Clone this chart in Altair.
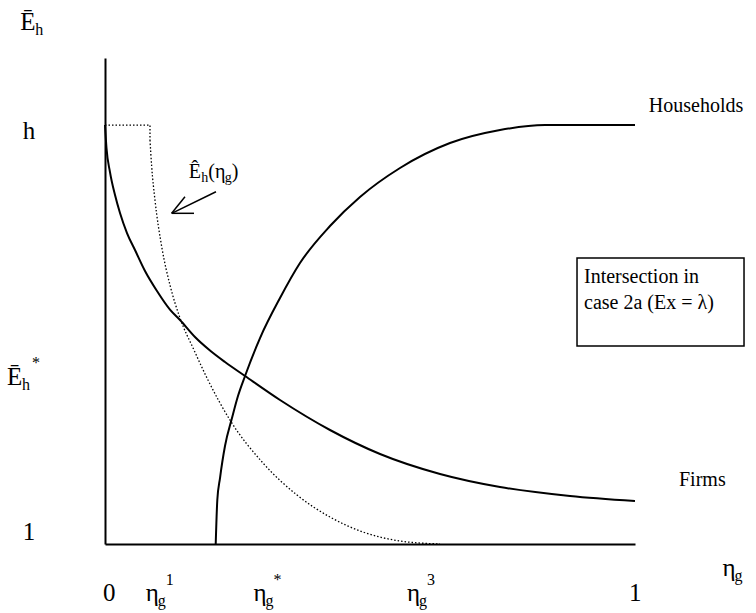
import altair as alt
import pandas as pd

# ---- curve values: η_g on the horizontal axis, Ē_h on the vertical (Ē_h = 1 at the axis, h = 2) ----
FIRMS_ETA = [0.0, 0.0028, 0.0094, 0.0189, 0.0283, 0.0415, 0.0566, 0.0755, 0.0981,
             0.1226, 0.1415, 0.1698, 0.1981, 0.2264, 0.2642, 0.3302, 0.4245, 0.5189,
             0.6321, 0.7453, 0.8774, 1.0]
FIRMS_E = [2.0, 1.9451, 1.8878, 1.8329, 1.7900, 1.7422, 1.7017, 1.6516, 1.6038,
           1.5594, 1.5346, 1.4940, 1.4618, 1.4344, 1.4010, 1.3437, 1.2721, 1.2148,
           1.1671, 1.1360, 1.1146, 1.1026]

HOUSE_ETA = [0.2089, 0.2119, 0.2170, 0.2264, 0.2396, 0.2509, 0.2642, 0.2925, 0.3302,
             0.3679, 0.4245, 0.4811, 0.5566, 0.6509, 0.7453, 0.8302, 1.0]
HOUSE_E = [1.0, 1.1050, 1.1575, 1.2339, 1.3007, 1.3532, 1.4010, 1.4916, 1.5871,
           1.6706, 1.7589, 1.8282, 1.8974, 1.9570, 1.9881, 2.0, 2.0]

# Ê_h(η_g): flat at h, a drop, then the decaying branch down to 1
EHAT_STEP_ETA = [0.0, 0.0849, 0.0849]
EHAT_STEP_E = [2.0, 2.0, 1.9642]
EHAT_ETA = [0.0849, 0.0881, 0.0943, 0.1070, 0.1226, 0.1415, 0.1679, 0.1943, 0.2358,
            0.2981, 0.3623, 0.4245, 0.4868, 0.5566, 0.6321]
EHAT_E = [1.9642, 1.9005, 1.8210, 1.7096, 1.6181, 1.5394, 1.4630, 1.3914, 1.2959,
          1.1933, 1.1169, 1.0644, 1.0286, 1.0072, 1.0]

E_LOW, E_HIGH = 1.0, 2.0
E_STAR = 1.40
E_TOP = 2.16

# arrow pointing at the Ê_h curve: (start, end) pairs
ARROW_X = [0.2094, 0.1258, 0.1258]
ARROW_Y = [1.8408, 1.7893, 1.7893]
ARROW_X2 = [0.1258, 0.1509, 0.1679]
ARROW_Y2 = [1.7893, 1.8289, 1.7893]

# note box extent
BOX_X, BOX_X2 = 0.8906, 1.2057
BOX_Y, BOX_Y2 = 1.4726, 1.6826

FONT = "Liberation Serif"
PX_X, PX_Y = 530.0, 419.0   # pixels per data unit on each axis


def piece(ax, ay, dx, dy, text):
    """A text fragment anchored at (ax, ay) in data units, nudged by dx/dy pixels."""
    return {"x": ax + dx / PX_X, "y": ay - dy / PX_Y, "text": text}


# axis symbols (large) and their sub/superscripts (small)
axis_main = [
    piece(-0.16, E_TOP, 0, -28, "Ē"),
    piece(-0.155, E_HIGH, 0, 14, "h"),
    piece(-0.185, E_STAR, 0, 9, "Ē"),
    piece(-0.155, E_LOW, 0, -4, "1"),
    piece(0.0, E_LOW, -2, 57, "0"),
    piece(0.077, E_LOW, 0, 57, "η"),
    piece(0.28, E_LOW, 0, 57, "η"),
    piece(0.57, E_LOW, 0, 57, "η"),
    piece(1.0, E_LOW, -6, 57, "1"),
    piece(1.165, E_LOW, 0, 32, "η"),
]
axis_small = [
    piece(-0.16, E_TOP, 15, -23, "h"),
    piece(-0.185, E_STAR, 15, 14, "h"), piece(-0.185, E_STAR, 25, -8, "*"),
    piece(0.077, E_LOW, 12, 62, "g"), piece(0.077, E_LOW, 20, 41, "1"),
    piece(0.28, E_LOW, 12, 62, "g"), piece(0.28, E_LOW, 20, 41, "*"),
    piece(0.57, E_LOW, 12, 62, "g"), piece(0.57, E_LOW, 20, 41, "3"),
    piece(1.165, E_LOW, 12, 37, "g"),
]
# annotations and their subscripts
note_main = [
    piece(1.026, E_HIGH, 0, -13, "Households"),
    piece(1.083, FIRMS_E[-1], 0, -15, "Firms"),
    piece(0.158, 1.86, 0, -6, "Ê"),
    piece(0.158, 1.86, 19.5, -6, "(η"),
    piece(0.158, 1.86, 43, -6, ")"),
    piece(BOX_X, BOX_Y2, 7, 25, "Intersection in"),
    piece(BOX_X, BOX_Y2, 7, 51, "case 2a (Ex = λ)"),
]
note_small = [
    piece(0.158, 1.86, 12.5, -2, "h"),
    piece(0.158, 1.86, 36, -2, "g"),
]

x_scale = alt.Scale(domain=[0, 1], nice=False, zero=False)
y_scale = alt.Scale(domain=[E_LOW, E_TOP], nice=False, zero=False)


def xy():
    return dict(
        x=alt.X("x:Q", scale=x_scale, title=None),
        y=alt.Y("y:Q", scale=y_scale, title=None),
    )


def text_layer(rows, size):
    return alt.Chart(pd.DataFrame(rows)).mark_text(
        align="left", baseline="alphabetic", font=FONT, fontSize=size, color="black"
    ).encode(text="text:N", **xy())


firms = alt.Chart(pd.DataFrame({"x": FIRMS_ETA, "y": FIRMS_E})).mark_line(
    color="black", strokeWidth=2, interpolate="monotone").encode(**xy())

households = alt.Chart(pd.DataFrame({"x": HOUSE_ETA, "y": HOUSE_E})).mark_line(
    color="black", strokeWidth=2, interpolate="monotone").encode(**xy())

ehat_step = alt.Chart(pd.DataFrame({"x": EHAT_STEP_ETA, "y": EHAT_STEP_E,
                                    "i": range(len(EHAT_STEP_ETA))})).mark_line(
    color="black", strokeWidth=1.3, strokeDash=[1.5, 2]).encode(
    order="i:Q", **xy())

ehat = alt.Chart(pd.DataFrame({"x": EHAT_ETA, "y": EHAT_E})).mark_line(
    color="black", strokeWidth=1.3, strokeDash=[1.5, 2], interpolate="monotone").encode(**xy())

arrow = alt.Chart(pd.DataFrame({"x": ARROW_X, "y": ARROW_Y,
                                "x2": ARROW_X2, "y2": ARROW_Y2})).mark_rule(
    color="black", strokeWidth=1.5).encode(
    x2="x2:Q", y2="y2:Q", **xy())

box = alt.Chart(pd.DataFrame({"x": [BOX_X], "x2": [BOX_X2],
                              "y": [BOX_Y], "y2": [BOX_Y2]})).mark_rect(
    fill="white", fillOpacity=0, stroke="black", strokeWidth=1.5).encode(
    x2="x2:Q", y2="y2:Q", **xy())

chart = alt.layer(
    box, ehat_step, ehat, firms, households, arrow,
    text_layer(axis_main, 25), text_layer(axis_small, 16),
    text_layer(note_main, 20), text_layer(note_small, 14),
).properties(
    width=530, height=486,
    autosize=alt.AutoSizeParams(type="none"),
    padding={"left": 105, "top": 58, "right": 121, "bottom": 69},
    background="white",
).configure_axis(
    ticks=False, labels=False, grid=False,
    domainColor="black", domainWidth=2,
).configure_view(stroke=None)

chart.save("out.html", embed_options={"renderer": "svg", "actions": False})
